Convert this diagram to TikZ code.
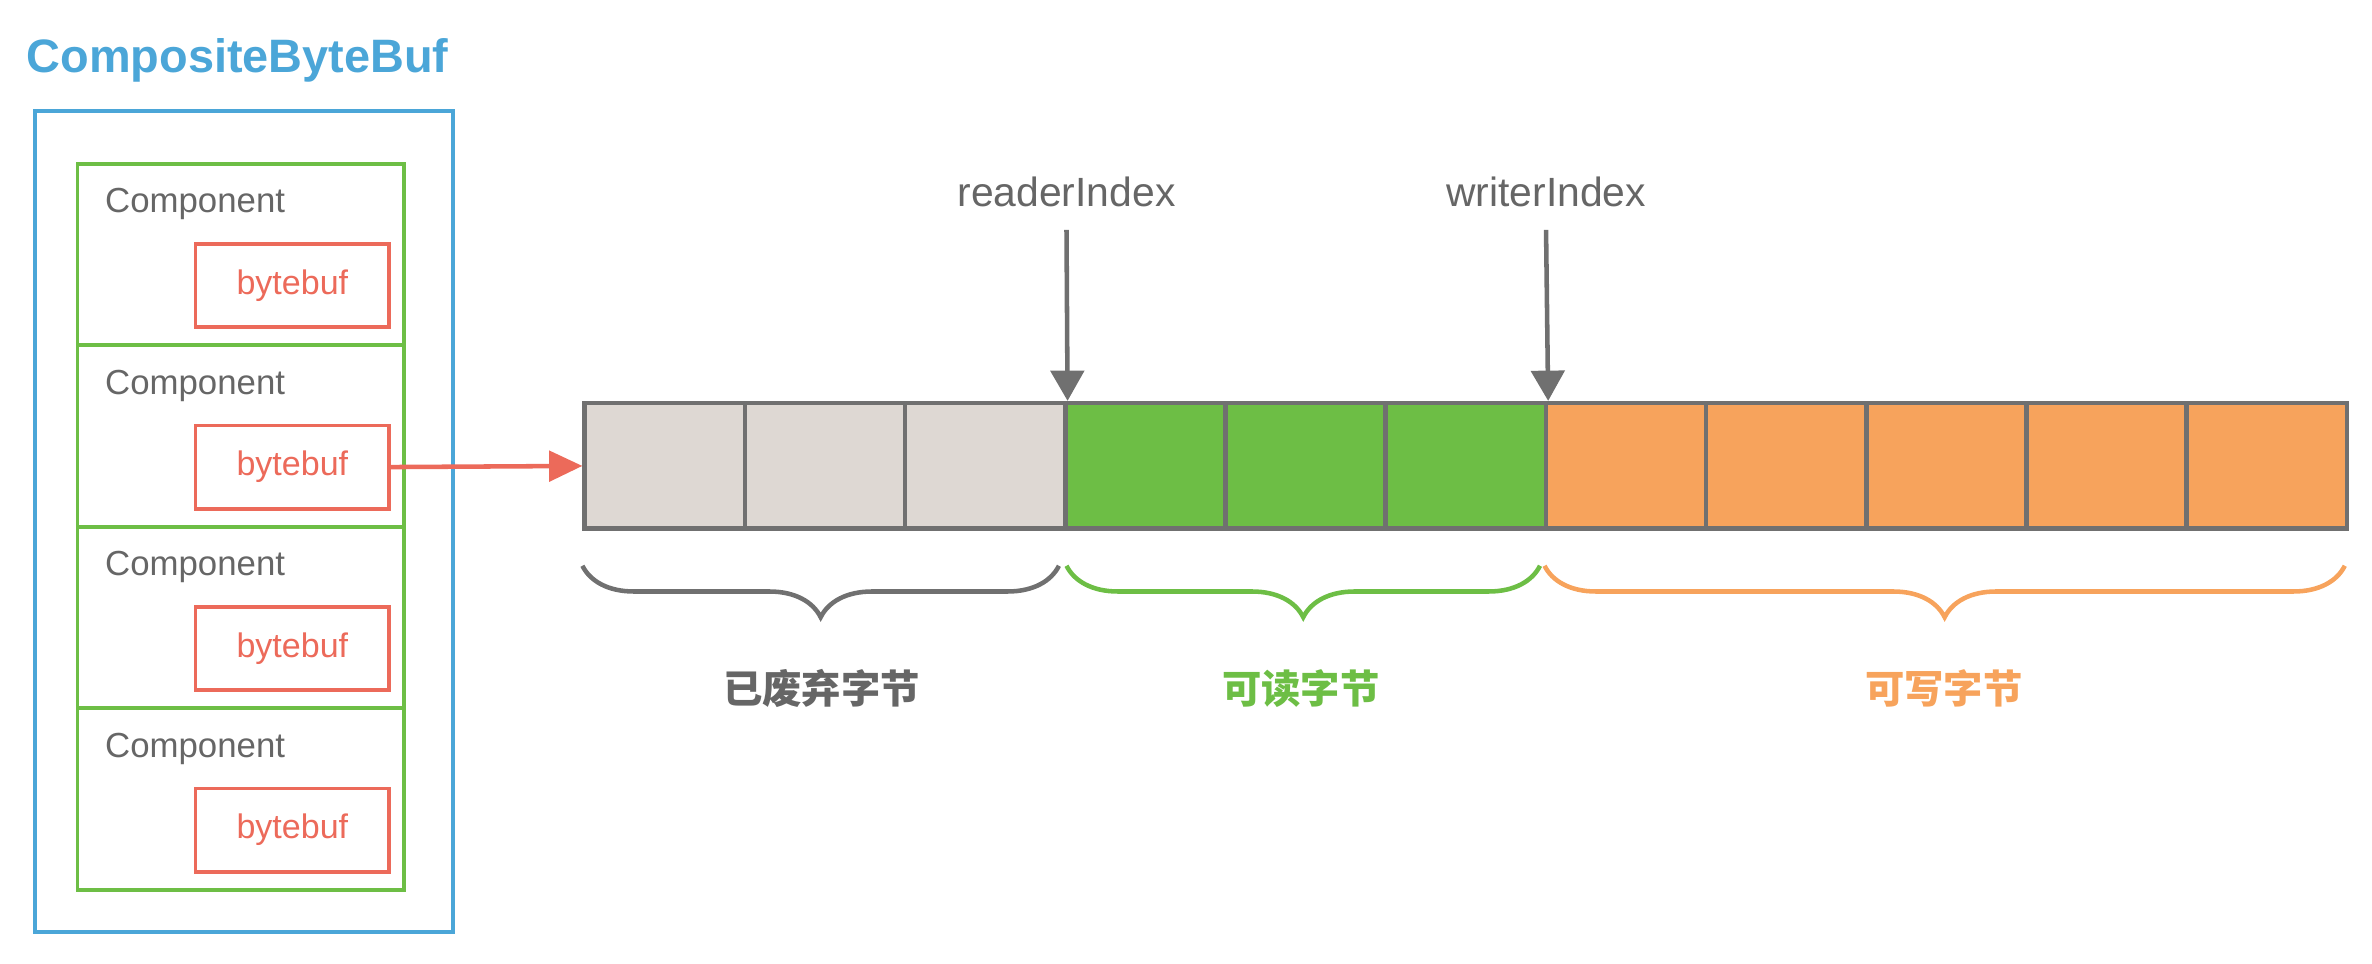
\documentclass[tikz,border=0pt]{standalone}
\usepackage{fontspec}
\setmainfont{Liberation Sans}
\newfontfamily\cjk{Noto Sans CJK SC}
\usetikzlibrary{decorations.pathreplacing,arrows.meta}
\definecolor{cblue}{HTML}{4BA6D8}
\definecolor{cgreen}{HTML}{6DBE45}
\definecolor{cred}{HTML}{EC6A5A}
\definecolor{cgrayf}{HTML}{DED8D3}
\definecolor{corange}{HTML}{F7A35C}
\definecolor{cline}{HTML}{707070}
\definecolor{ctext}{HTML}{666666}
\begin{document}
\begin{tikzpicture}[x=1pt,y=-1pt,
  comp/.style={draw=cgreen,line width=2.5pt,minimum width=216pt,minimum height=120pt,inner sep=0},
  buf/.style={draw=cred,line width=2.5pt,minimum width=128pt,minimum height=55pt,text=cred,font=\fontsize{22.5}{26}\selectfont},
  lab/.style={text=ctext,font=\fontsize{23}{27}\selectfont,anchor=west},
  cell/.style={draw=cline,line width=3pt,minimum width=105.9pt,minimum height=83pt,inner sep=0},
  idx/.style={text=ctext,font=\fontsize{27}{32}\selectfont},
  brc/.style={decorate,decoration={brace,mirror,amplitude=34pt,aspect=0.5},line width=3pt},
  cj/.style={font=\cjk\bfseries\fontsize{26}{30}\selectfont}]
\useasboundingbox (0,0) rectangle (1568,637);
\node[text=cblue,font=\bfseries\fontsize{31}{36}\selectfont,anchor=west] (title) at (14,40) {CompositeByteBuf};
\node[draw=cblue,line width=2.5pt,minimum width=276pt,minimum height=543pt,anchor=north west] (outer) at (22,72) {};
\foreach \i/\y in {1/107,2/227,3/347,4/467}{
  \node[comp,anchor=north west] (c\i) at (50,\y) {};
  \node[lab] (l\i) at (66,\y+28) {Component};
  \node[buf,anchor=north west] (b\i) at (128,\y+53) {bytebuf};
}
\foreach \i in {1,...,11}{
  \ifnum\i<4 \def\fc{cgrayf}\else\ifnum\i<7 \def\fc{cgreen}\else\def\fc{corange}\fi\fi
  \node[cell,fill=\fc,anchor=north west] (k\i) at ({385+(\i-1)*105.9},265) {};
}
\draw[cred,line width=3pt,-{Triangle[length=22pt,width=20pt]}] (b2.east) -- (k1.west);
\node[idx] (ri) at (705,127) {readerIndex};
\node[idx] (wi) at (1022,127) {writerIndex};
\coordinate (ra) at (705,152); \coordinate (wa) at (1022,152);
\draw[cline,line width=3pt,-{Triangle[length=20pt,width=22pt]}] (ra) -- (k3.north east);
\draw[cline,line width=3pt,-{Triangle[length=20pt,width=22pt]}] (wa) -- (k6.north east);
\coordinate (g1) at (385,374); \coordinate (g2) at (700,374);
\coordinate (n1) at (705,374); \coordinate (n2) at (1018,374);
\coordinate (o1) at (1021,374); \coordinate (o2) at (1550,374);
\draw[brc,cline] (g1) -- (g2);
\draw[brc,cgreen] (n1) -- (n2);
\draw[brc,corange] (o1) -- (o2);
\node[cj,text=ctext] (t1) at (543,455) {已废弃字节};
\node[cj,text=cgreen] (t2) at (860,455) {可读字节};
\node[cj,text=corange] (t3) at (1285,455) {可写字节};
\end{tikzpicture}
\end{document}
